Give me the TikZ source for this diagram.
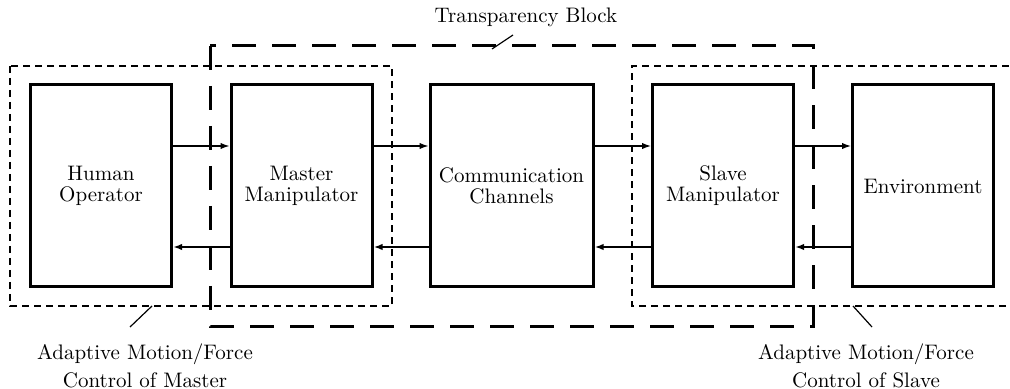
\documentclass[tikz,border=0pt]{standalone}
\usepackage{fontspec}
\usetikzlibrary{arrows.meta}
\newcommand{\lsfont}[2]{\fontsize{#1}{#2}\selectfont\addfontfeatures{LetterSpace=3}}
\begin{document}
\begin{tikzpicture}[x=0.5pt,y=-0.5pt,
  blockbox/.style={draw,line width=1.5pt,minimum width=70.5pt,minimum height=101pt,inner sep=0pt,align=center,font=\lsfont{10.5}{10.5}},
  fwd/.style={line width=0.65pt,-{Latex[length=4.5pt,width=3.2pt]}},
  bwd/.style={line width=1.2pt,-{Latex[length=4.5pt,width=3.2pt]}},
  dotbox/.style={line width=1.3pt,dash pattern=on 3.5pt off 2.5pt},
  dashbox/.style={line width=1.5pt,dash pattern=on 12pt off 8pt},
  leader/.style={line width=0.6pt},
  lbl/.style={align=center,inner sep=0pt,font=\lsfont{10.5}{14}}]
\useasboundingbox (0,0) rectangle (1010,389);
% blocks
\node[blockbox] (h) at (101,186) {Human\\Operator};
\node[blockbox] (m) at (301.5,186) {Master\\Manipulator};
\node[blockbox,minimum width=81.5pt] (c) at (511.5,186) {Communication\\Channels};
\node[blockbox] (s) at (723,186) {Slave\\Manipulator};
\node[blockbox] (e) at (923,186) {Environment};
% group boxes
\draw[dashbox] (210,46) rectangle (813,326);
\draw[dotbox] (10,66) rectangle (392,306);
\draw[dotbox] (1030,306) -- (632,306) -- (632,66) -- (1030,66);
% forward arrows
\draw[fwd] ([yshift=20pt]h.east) -- ([yshift=20pt]m.west);
\draw[fwd] ([yshift=20pt]m.east) -- ([yshift=20pt]c.west);
\draw[fwd] ([yshift=20pt]c.east) -- ([yshift=20pt]s.west);
\draw[fwd] ([yshift=20pt]s.east) -- ([yshift=20pt]e.west);
% backward arrows
\draw[bwd] ([yshift=-30.5pt]m.west) -- ([yshift=-30.5pt]h.east);
\draw[bwd] ([yshift=-30.5pt]c.west) -- ([yshift=-30.5pt]m.east);
\draw[bwd] ([yshift=-30.5pt]s.west) -- ([yshift=-30.5pt]c.east);
\draw[bwd] ([yshift=-30.5pt]e.west) -- ([yshift=-30.5pt]s.east);
% labels
\node[lbl] (tb) at (526,17) {Transparency Block};
\coordinate (tb1) at (513,35);
\coordinate (tb2) at (492,49);
\draw[leader] (tb1) -- (tb2);
\node[lbl] (am) at (145,366) {Adaptive Motion/Force\\Control of Master};
\coordinate (am1) at (152,306);
\coordinate (am2) at (130,327);
\draw[leader] (am1) -- (am2);
\node[lbl] (as) at (866,366) {Adaptive Motion/Force\\Control of Slave};
\coordinate (as1) at (853,306);
\coordinate (as2) at (872,327);
\draw[leader] (as1) -- (as2);
\end{tikzpicture}
\end{document}
